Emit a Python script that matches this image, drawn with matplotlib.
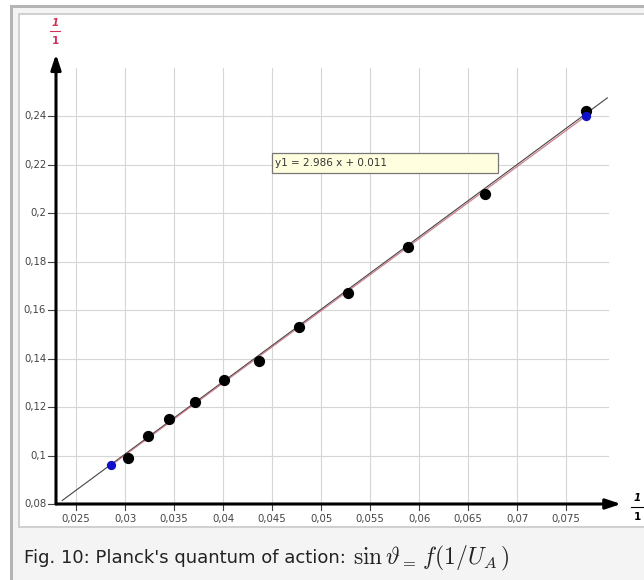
##############################################################
# Planck's quantum of action: sin(theta) vs 1/U_A
##############################################################

import numpy as np
import matplotlib.pyplot as plt
from matplotlib.patches import Rectangle

plt.rcParams['mathtext.fontset'] = 'cm'

x_meas = [0.0303, 0.0323, 0.0345, 0.0371, 0.0401, 0.0437, 0.0477,
          0.0527, 0.0589, 0.0667, 0.0770]
y_meas = [0.099, 0.108, 0.115, 0.122, 0.131, 0.139, 0.153,
          0.167, 0.186, 0.208, 0.242]

# the two blue points
x_blue = [0.0286, 0.0770]
y_blue = [0.096, 0.240]

# regression y1 = slope * x + icpt
slope = 2.986
icpt = 0.011
fit_x = [0.0236, 0.0792]

x_ticks = [0.025, 0.03, 0.035, 0.04, 0.045, 0.05, 0.055, 0.06, 0.065, 0.07, 0.075]
x_labels = ['0,025', '0,03', '0,035', '0,04', '0,045', '0,05', '0,055',
            '0,06', '0,065', '0,07', '0,075']
y_ticks = [0.08, 0.1, 0.12, 0.14, 0.16, 0.18, 0.2, 0.22, 0.24]
y_labels = ['0,08', '0,1', '0,12', '0,14', '0,16', '0,18', '0,2', '0,22', '0,24']

W, H = 644, 580
fig = plt.figure(figsize=(W / 100, H / 100), dpi=100)
fig.patch.set_facecolor('white')

# frame of the figure box (pixel coords -> figure fraction)
def px_rect(x0, y0, x1, y1, **kw):
    fig.patches.append(Rectangle((x0 / W, 1 - y1 / H), (x1 - x0) / W, (y1 - y0) / H,
                                 transform=fig.transFigure, zorder=-10, **kw))

px_rect(10, 5, W, H, facecolor='#b4b4b4', edgecolor='none')
px_rect(13, 8, W, H, facecolor='#f4f4f4', edgecolor='none')
px_rect(18, 13, W, 528, facecolor='#d0d0d0', edgecolor='none')
px_rect(20, 15, W, 526, facecolor='white', edgecolor='none')

# axes placed so the data maps onto the picture
x0 = 0.02296
x1 = 0.0810
y0 = 0.08
y1 = 0.2693
ax = fig.add_axes([56 / W, (H - 504) / H, 569 / W, 459 / H])
ax.set_zorder(5)
ax.set_xlim(x0, x1)
ax.set_ylim(y0, y1)
ax.axis('off')

# grid
for xt in x_ticks:
    ax.plot([xt, xt], [y0, 0.2598], color='#d6d6d6', lw=0.8, zorder=1)
for yt in y_ticks[1:]:
    ax.plot([x0, 0.0793], [yt, yt], color='#d6d6d6', lw=0.8, zorder=1)

# tick marks and labels
for xt, lab in zip(x_ticks, x_labels):
    ax.plot([xt, xt], [y0, y0 - 0.0025], color='#444444', lw=0.8, clip_on=False)
    ax.text(xt, y0 - 0.0043, lab, ha='center', va='top', fontsize=7.3,
            color='#444444')
for yt, lab in zip(y_ticks, y_labels):
    ax.plot([x0 - 0.0008, x0], [yt, yt], color='#444444', lw=0.8, clip_on=False)
    ax.text(x0 - 0.001, yt, lab, ha='right', va='center', fontsize=7.3,
            color='#444444')

# axes arrows
ax.annotate('', xy=(0.0806, y0), xytext=(x0, y0),
            arrowprops=dict(arrowstyle='-|>,head_length=0.9,head_width=0.3',
                            color='black', lw=2.2, shrinkA=0, shrinkB=0), zorder=5)
ax.annotate('', xy=(x0, 0.2655), xytext=(x0, y0),
            arrowprops=dict(arrowstyle='-|>,head_length=0.9,head_width=0.3',
                            color='black', lw=2.2, shrinkA=0, shrinkB=0), zorder=5)

# unit labels (fraction 1/1)
fig.text(55 / W, 1 - 23 / H, '1', ha='center', va='center', fontsize=7.5,
         color='#d0305a', style='italic', weight='bold')
fig.lines.append(plt.Line2D([50 / W, 60 / W], [1 - 31 / H, 1 - 31 / H],
                            transform=fig.transFigure, color='#d0305a', lw=0.8))
fig.text(55 / W, 1 - 41 / H, '1', ha='center', va='center', fontsize=7.5,
         color='#d0305a', weight='bold')
fig.text(637 / W, 1 - 498 / H, '1', ha='center', va='center', fontsize=7.5,
         color='black', style='italic', weight='bold')
fig.lines.append(plt.Line2D([631 / W, 643 / W], [1 - 507 / H, 1 - 507 / H],
                            transform=fig.transFigure, color='black', lw=0.8))
fig.text(637 / W, 1 - 517 / H, '1', ha='center', va='center', fontsize=7.5,
         color='black', weight='bold')

# fit line and the line between the two blue points
fx = np.array(fit_x)
ax.plot(fx, slope * fx + icpt, color='#444444', lw=0.8, zorder=3)
ax.plot(x_blue, y_blue, color='#c06070', lw=0.9, alpha=0.8, zorder=3)

# points
ax.scatter(x_meas, y_meas, s=50, color='black', zorder=4)
ax.scatter(x_blue, y_blue, s=32, color='#1010c8', marker='o', zorder=4)

# equation box
ax.add_patch(Rectangle((0.0450, 0.2165), 0.0230, 0.0082, facecolor='#ffffe0',
                       edgecolor='#777777', lw=0.9, zorder=6))
ax.text(0.0453, 0.2206, 'y1 = %.3f x + %.3f' % (slope, icpt),
        ha='left', va='center', fontsize=7.5, color='#333333', zorder=7)

# caption
fig.text(24 / W, 1 - 558 / H, "Fig. 10: Planck's quantum of action:",
         ha='left', va='center', fontsize=13, color='#222222')
fig.text(353 / W, 1 - 558 / H, r"$\sin\vartheta_{=}\, f(1/U_A\,)$",
         ha='left', va='center', fontsize=17, color='#222222')

fig.savefig('out.png', dpi=100)
